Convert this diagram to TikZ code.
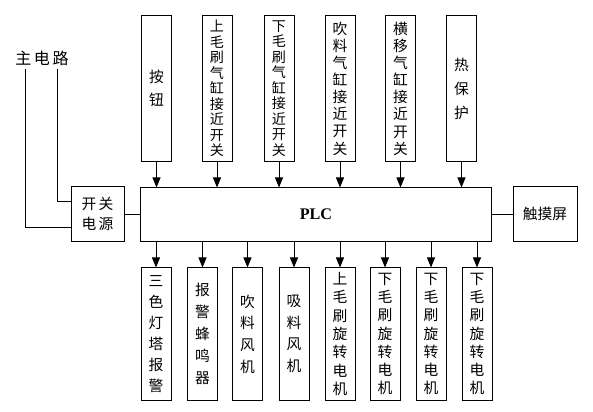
\documentclass[tikz,border=0pt]{standalone}
\usepackage{fontspec}
\setmainfont{Noto Sans CJK SC}
\newfontfamily\plcfont{Liberation Serif}
\usetikzlibrary{positioning,arrows.meta}

\tikzset{
  box/.style={rectangle,draw,line width=0.7pt,inner sep=0pt,align=center},
  inbox/.style={box,minimum width=0.75cm,minimum height=3.625cm},
  outbox/.style={box,minimum width=0.75cm,minimum height=3.3cm},
  pitch/.style={font=\fontsize{10.5}{#1}\selectfont},
  tight/.style={font=\fontsize{10}{11}\selectfont},
  feed/.style={line width=0.7pt,-{Triangle[length=0.25cm,width=0.2cm]}},
  wire/.style={line width=0.7pt}
}

\begin{document}
\begin{tikzpicture}[x=0.025cm,y=-0.025cm]
  \useasboundingbox (0,0) rectangle (593,412);
  % controller and its neighbours
  \node[box,minimum width=8.75cm,minimum height=1.325cm] (plc) at (316,214.5)
    {\plcfont\bfseries\fontsize{11.5}{14}\selectfont PLC};
  \node[box,minimum width=1.325cm,minimum height=1.35cm,pitch=14.5] (power) at (97.5,214) {开\,关\\电\,源};
  \node[box,minimum width=1.6cm,minimum height=1.35cm,pitch=14] (touch) at (545,214) {触摸屏};
  \node[font=\fontsize{11.4}{14}\selectfont] (main) at (42,58) {主\,电\,路};

  % inputs
  \node[inbox,pitch=16.3] (in1) at (156.5,88.5) {按\\钮};
  \node[inbox,tight] (in2) at (217,88.5) {上\\毛\\刷\\气\\缸\\接\\近\\开\\关};
  \node[inbox,tight] (in3) at (279,88.5) {下\\毛\\刷\\气\\缸\\接\\近\\开\\关};
  \node[inbox,pitch=12.2] (in4) at (340,88.5) {吹\\料\\气\\缸\\接\\近\\开\\关};
  \node[inbox,pitch=12.2] (in5) at (400.5,88.5) {横\\移\\气\\缸\\接\\近\\开\\关};
  \node[inbox,pitch=17] (in6) at (461.5,88.5) {热\\保\\护};

  % outputs
  \node[outbox,pitch=14.9] (out1) at (156,334) {三\\色\\灯\\塔\\报\\警};
  \node[outbox,pitch=15.6] (out2) at (202.5,334) {报\\警\\蜂\\鸣\\器};
  \node[outbox,pitch=15.4] (out3) at (247.5,334) {吹\\料\\风\\机};
  \node[outbox,pitch=15.4] (out4) at (294,334) {吸\\料\\风\\机};
  \node[outbox,pitch=13] (out5) at (340,334) {上\\毛\\刷\\旋\\转\\电\\机};
  \node[outbox,pitch=13] (out6) at (385,334) {下\\毛\\刷\\旋\\转\\电\\机};
  \node[outbox,pitch=13] (out7) at (431,334) {下\\毛\\刷\\旋\\转\\电\\机};
  \node[outbox,pitch=13] (out8) at (477,334) {下\\毛\\刷\\旋\\转\\电\\机};

  \foreach \i in {1,...,6}
    \draw[feed] (in\i) -- (in\i |- plc.north);
  \foreach \i in {1,...,8}
    \draw[feed] (plc.south -| out\i) -- (out\i);

  % power wiring
  \coordinate (mainL) at (25,69);
  \coordinate (mainR) at (57,69);
  \draw[wire] (mainL) |- ([yshift=-0.325cm]power.west);
  \draw[wire] (mainR) |- ([yshift=0.325cm]power.west);
  \draw[wire] (power.east) -- (power.east -| plc.west);
  \draw[wire] (touch.west) -- (touch.west -| plc.east);
\end{tikzpicture}
\end{document}
